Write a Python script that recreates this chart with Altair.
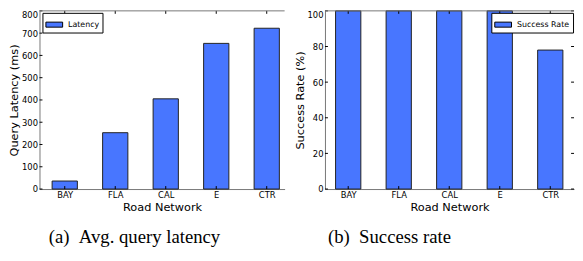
import json
import altair as alt
import pandas as pd

networks = ["BAY", "FLA", "CAL", "E", "CTR"]
latency_ms = [36, 253, 405, 654, 722]
success_pct = [100, 100, 100, 100, 78]
latency_ticks = [0, 100, 200, 300, 400, 500, 600, 700, 800]
success_ticks = [0, 20, 40, 60, 80, 100]
series_names = ["Latency", "Success Rate"]
y_titles = ["Query Latency (ms)", "Success Rate (%)"]
x_title = "Road Network"
captions = ["(a)\u2002Avg. query latency", "(b)\u2002Success rate"]

BLUE = "#4876FF"
SPINE = "#777777"
TICK_LEN = 3
label_expr = f"{json.dumps(networks)}[datum.value]"


def panel(values, series, yticks, ytitle, xdom, width, height,
          legend_x, legend_y, caption, cap_dx, right_ticks):
    n = len(networks)
    df = pd.DataFrame({"idx": list(range(n)), "val": values, "series": [series] * n})
    ymax = yticks[-1]
    xscale = alt.Scale(domain=xdom, nice=False, zero=False, padding=0)
    yscale = alt.Scale(domain=[0, ymax], nice=False, padding=0)
    xaxis = alt.Axis(values=list(range(n)), labelExpr=label_expr, title=x_title,
                     ticks=False, grid=False, domainColor=SPINE, labelPadding=2,
                     titlePadding=2, labelAngle=0)
    yaxis = alt.Axis(values=yticks, title=ytitle, ticks=False, grid=False,
                     domainColor=SPINE, labelPadding=2, titlePadding=2,
                     labelBaseline={"condition": {"test": f"datum.value == {ymax}", "value": "top"},
                                    "value": "middle"})
    legend = alt.Legend(title=None, orient="none", legendX=legend_x, legendY=legend_y,
                        symbolType="M-1,-0.3H1V0.3H-1Z", symbolSize=289,
                        symbolStrokeColor="black", symbolStrokeWidth=1,
                        labelFont="DejaVu Sans", labelFontSize=8, labelColor="black",
                        labelOffset=5, padding=3, strokeColor="black", fillColor="white",
                        cornerRadius=0)
    bars = alt.Chart(df).transform_calculate(
        lo="datum.idx - 0.25", hi="datum.idx + 0.25"
    ).mark_rect(stroke="#222222", strokeWidth=1).encode(
        x=alt.X("lo:Q", scale=xscale, axis=xaxis),
        x2="hi:Q",
        y=alt.Y("val:Q", scale=yscale, axis=yaxis),
        y2=alt.datum(0),
        color=alt.Color("series:N", scale=alt.Scale(domain=[series], range=[BLUE]), legend=legend),
    )
    tdf = pd.DataFrame({"t": yticks})
    layers = [bars]
    layers.append(alt.Chart(tdf).mark_rule(color="black").encode(
        y=alt.Y("t:Q", scale=yscale, axis=yaxis), x=alt.value(0), x2=alt.value(TICK_LEN)))
    if right_ticks:
        layers.append(alt.Chart(tdf).mark_rule(color="black").encode(
            y=alt.Y("t:Q", scale=yscale, axis=yaxis), x=alt.value(width - TICK_LEN), x2=alt.value(width)))
    layers.append(alt.Chart(df).mark_rule(color="black").encode(
        x=alt.X("idx:Q", scale=xscale, axis=xaxis), y=alt.value(height), y2=alt.value(height - TICK_LEN)))
    layers.append(alt.Chart(df).mark_rule(color="black").encode(
        x=alt.X("idx:Q", scale=xscale, axis=xaxis), y=alt.value(0), y2=alt.value(TICK_LEN)))
    layers.append(alt.Chart(pd.DataFrame({"s": [0]})).mark_rule(color=SPINE).encode(
        x=alt.value(0), x2=alt.value(width), y=alt.value(0)))
    return alt.layer(*layers).properties(
        width=width, height=height,
        title=alt.TitleParams(caption, orient="bottom", anchor="middle", frame="group",
                              font="Liberation Serif", fontSize=19, fontWeight="normal",
                              color="black", offset=16, dx=cap_dx),
    )


left = panel(latency_ms, series_names[0], latency_ticks, y_titles[0], [-0.5, 4.354], 249, 181,
             3, 2, captions[0], -28, False)
right = panel(success_pct, series_names[1], success_ticks, y_titles[1], [-0.46, 4.47], 253, 181,
              169, 2, captions[1], -61, True)

chart = alt.hconcat(left, right, spacing=8).resolve_scale(color="independent").properties(
    padding={"left": 0, "top": 0, "right": 0, "bottom": 0}
).configure_view(stroke=None).configure_axis(
    labelFont="DejaVu Sans", labelFontSize=8.5, labelColor="black",
    titleFont="DejaVu Sans", titleFontSize=11.5, titleFontWeight="normal", titleColor="black",
)

chart.save("out.html", embed_options={"renderer": "svg", "actions": False})
